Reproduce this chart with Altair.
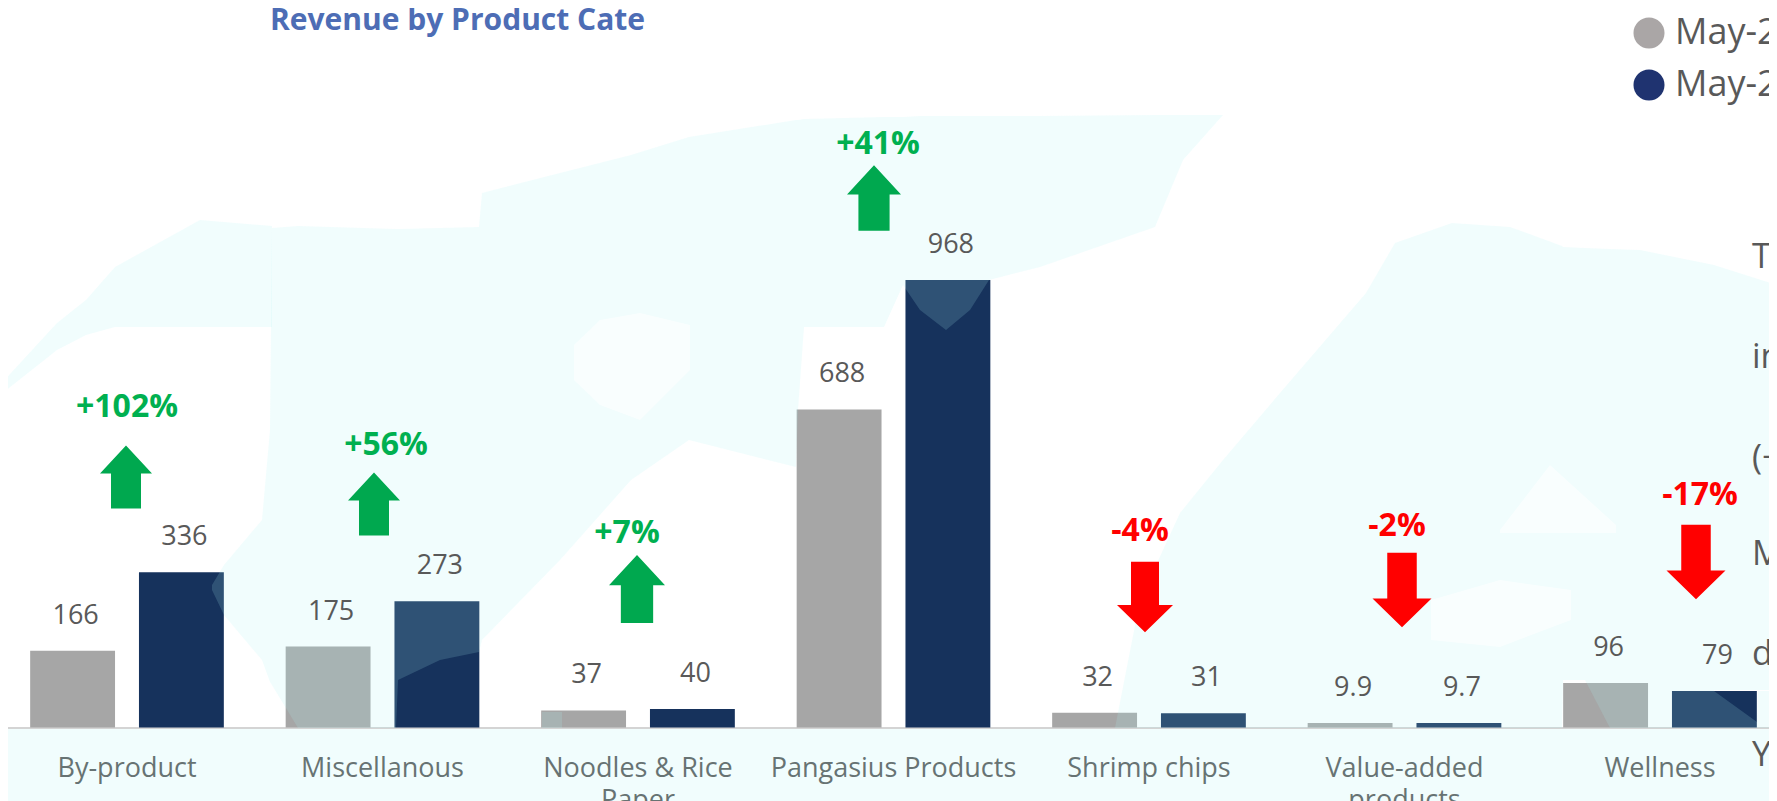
import altair as alt
import pandas as pd

FONT = "Open Sans"
GREY_TEXT = "#595959"

categories = ["By-product", "Miscellanous", "Noodles & Rice Paper", "Pangasius Products",
              "Shrimp chips", "Value-added products", "Wellness"]
prior_values = [166, 175, 37, 688, 32, 9.9, 96]
current_values = [336, 273, 40, 968, 31, 9.7, 79]

change_labels = ["+102%", "+56%", "+7%", "+41%", "-4%", "-2%", "-17%"]
change_label_x = [127, 386, 627, 878, 1140, 1397, 1700]
change_label_y = [407, 445, 533, 144, 531, 526, 495]
arrow_x = [126, 374, 637, 874, 1145, 1402, 1696]
arrow_y = [477, 504, 589, 198, 597, 590, 562]
arrow_width = [52, 52, 56, 54, 56, 59, 59]

legend_labels = ["May-2", "May-2"]
legend_colors = ["#aaa6a6", "#1f3370"]
legend_y = [33, 85]

side_text = ["To", "in", "(+", "M", "d", "Yo"]
side_text_y = [258, 358, 459, 555, 655, 756]

# Watermark map: ocean patches (x, top, bottom)
ocean = {
    "a": ([0, 57, 86, 115, 200, 272], [385, 323, 300, 267, 220, 226], [395, 350, 335, 327, 327, 327]),
    "b": ([212, 224, 262, 270, 272, 298, 396, 398, 440, 479, 482, 560, 631, 689, 796, 798, 804, 884, 903, 920, 946, 970, 989, 1040, 1155, 1183, 1223],
          [585, 565, 520, 430, 228, 226, 229, 229, 228, 227, 193, 173, 155, 137, 120, 120, 119, 117, 117, 116, 116, 116, 116, 116, 115, 115, 115],
          [590, 615, 660, 682, 685, 728, 728, 680, 660, 652, 640, 560, 480, 440, 467, 410, 327, 327, 285, 310, 330, 310, 280, 267, 227, 160, 115]),
    "c": ([1115, 1140, 1180, 1223, 1280, 1366, 1395, 1452, 1510, 1562, 1563, 1585, 1610, 1640, 1714],
          [728, 600, 513, 460, 393, 293, 243, 223, 227, 246, 247, 248, 249, 250, 265],
          [728, 728, 728, 728, 728, 728, 728, 728, 728, 728, 680, 680, 728, 728, 728]),
    "d": ([1714, 1777], [265, 285], [690, 690]),
    "e": ([1714, 1757, 1758, 1777], [691, 722, 691, 691], [728, 728, 728, 728]),
    "f": ([542, 562], [712, 712], [728, 728]),
    "g": ([0, 1777], [729, 729], [801, 801]),
}
# Pale islands of the watermark (x, top, bottom)
islands = {
    "i1": ([574, 600, 640, 690], [345, 320, 313, 325], [380, 405, 420, 370]),
    "i2": ([1500, 1550, 1616], [530, 465, 525], [533, 533, 533]),
    "i3": ([1431, 1500, 1571], [600, 580, 590], [640, 647, 620]),
}

bars = pd.DataFrame(
    [{"category": c, "series": "prior", "value": v} for c, v in zip(categories, prior_values)]
    + [{"category": c, "series": "current", "value": v} for c, v in zip(categories, current_values)]
)
changes = pd.DataFrame({"label": change_labels, "x": change_label_x, "y": change_label_y})
arrows = pd.DataFrame({"label": change_labels, "x": arrow_x, "y": arrow_y, "w": arrow_width})
arrows["s"] = arrows["w"] ** 2
ups = arrows[arrows["label"].str.startswith("+")]
downs = arrows[arrows["label"].str.startswith("-")]
legend = pd.DataFrame({"label": legend_labels, "color": legend_colors, "y": legend_y, "x": [1649, 1649], "tx": [1675, 1675]})
side = pd.DataFrame({"label": side_text, "y": side_text_y, "x": [1752] * len(side_text)})
title = pd.DataFrame({"label": ["Revenue by Product Cate"], "x": [270], "y": [30]})


def patches(shapes):
    rows = []
    for k, (xs, ts, bs) in shapes.items():
        rows += [{"id": k, "x": x, "t": t, "b": b} for x, t, b in zip(xs, ts, bs)]
    return pd.DataFrame(rows)


W, H = 1761, 719.5
band = alt.Scale(domain=categories, range=[-8.75, 1779.75], paddingInner=0.242, paddingOuter=0.121)
offset = alt.Scale(type="band", domain=["prior", "current"], paddingInner=0.22, paddingOuter=0)
yval = alt.Scale(domain=[0, 1556.4], range=[H, 0], nice=False, zero=False)
px = alt.Scale(domain=[0, 1777], range=[-8, 1769], nice=False, zero=False)
py = alt.Scale(domain=[0, 801], range=[-8, 793], nice=False, zero=False)

X = alt.X("x:Q", scale=px, axis=None)
Y = alt.Y("y:Q", scale=py, axis=None)

axis = alt.Axis(
    title=None, ticks=False, domainColor="#d4d4d4", domainWidth=2, labelAngle=0,
    labelFont=FONT, labelFontSize=27, labelColor=GREY_TEXT, labelPadding=41, labelOverlap=False,
    labelBound=False, labelFlush=False, labelLineHeight=32, labelBaseline="middle", labelLimit=400,
    labelExpr="datum.label == 'Noodles & Rice Paper' ? ['Noodles & Rice', 'Paper'] : "
              "datum.label == 'Value-added products' ? ['Value-added', 'products'] : datum.label",
)

bar_layer = alt.Chart(bars).mark_bar().encode(
    x=alt.X("category:N", scale=band, axis=axis, sort=categories),
    xOffset=alt.XOffset("series:N", scale=offset),
    y=alt.Y("value:Q", scale=yval, axis=None),
    color=alt.Color("series:N", scale=alt.Scale(domain=["prior", "current"], range=["#a6a6a6", "#16325c"]), legend=None),
)
value_layer = alt.Chart(bars).mark_text(
    font=FONT, fontSize=27, color=GREY_TEXT, dy=-35, dx=3, baseline="middle"
).encode(
    x=alt.X("category:N", scale=band, axis=None, sort=categories),
    xOffset=alt.XOffset("series:N", scale=offset),
    y=alt.Y("value:Q", scale=yval, axis=None),
    text=alt.Text("value:Q"),
)

ocean_layer = alt.Chart(patches(ocean)).mark_area(color="#aaf5f5", opacity=0.17).encode(
    x=X, y=alt.Y("t:Q", scale=py, axis=None), y2="b:Q", detail="id:N"
)
island_layer = alt.Chart(patches(islands)).mark_area(color="#ffffff", opacity=0.6).encode(
    x=X, y=alt.Y("t:Q", scale=py, axis=None), y2="b:Q", detail="id:N"
)

UP = "M0,-1.21 L1,-0.13 L0.577,-0.13 L0.577,1.21 L-0.577,1.21 L-0.577,-0.13 L-1,-0.13 Z"
DOWN = "M0,1.26 L1,0.29 L0.5,0.29 L0.5,-1.26 L-0.5,-1.26 L-0.5,0.29 L-1,0.29 Z"
up_layer = alt.Chart(ups).mark_point(shape=UP, filled=True, color="#00a84f", opacity=1, strokeWidth=0).encode(
    x=X, y=Y, size=alt.Size("s:Q", scale=None)
)
down_layer = alt.Chart(downs).mark_point(shape=DOWN, filled=True, color="#ff0000", opacity=1, strokeWidth=0).encode(
    x=X, y=Y, size=alt.Size("s:Q", scale=None)
)
change_layer = alt.Chart(changes).mark_text(font=FONT, fontSize=32, fontWeight="bold", baseline="middle").encode(
    x=X, y=Y, text="label:N",
    color=alt.condition("slice(datum.label, 0, 1) == '+'", alt.value("#00b050"), alt.value("#ff0000")),
)
legend_dots = alt.Chart(legend).mark_circle(size=962, opacity=1).encode(
    x=X, y=Y, color=alt.Color("color:N", scale=None)
)
legend_text = alt.Chart(legend).mark_text(font=FONT, fontSize=36, color=GREY_TEXT, align="left", baseline="middle").encode(
    x=alt.X("tx:Q", scale=px, axis=None), y=Y, text="label:N"
)
side_layer = alt.Chart(side).mark_text(font=FONT, fontSize=34, color=GREY_TEXT, align="left", baseline="middle").encode(
    x=X, y=Y, text="label:N"
)
title_layer = alt.Chart(title).mark_text(font=FONT, fontSize=30, fontWeight="bold", color="#4d6db5", align="left", baseline="alphabetic").encode(
    x=X, y=Y, text="label:N"
)

chart = alt.layer(
    bar_layer, ocean_layer, island_layer, value_layer, up_layer, down_layer, change_layer,
    legend_dots, legend_text, side_layer, title_layer,
).resolve_scale(x="independent", y="independent", color="independent", size="independent", xOffset="independent").properties(
    width=W, height=H, background="#ffffff",
    autosize=alt.AutoSizeParams(type="none"),
    padding={"left": 0, "top": 0, "right": 0, "bottom": 73.5},
).configure_view(stroke=None)

chart.save("out.html", embed_options={"renderer": "svg", "actions": False})
